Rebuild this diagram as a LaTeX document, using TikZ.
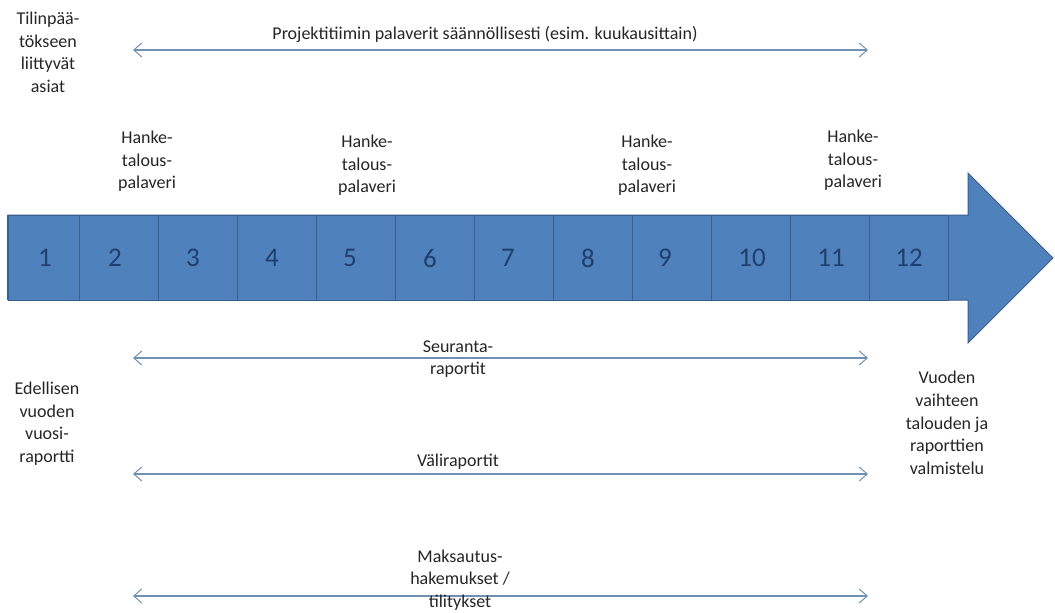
\documentclass[tikz,border=0pt]{standalone}
\usepackage{fontspec}
\setmainfont{Carlito}
\usetikzlibrary{arrows.meta}
\definecolor{bandfill}{HTML}{4F81BD}
\definecolor{bandedge}{HTML}{3A5F8F}
\definecolor{numblue}{HTML}{1F3F6E}
\definecolor{spanline}{HTML}{6F8FB3}
\definecolor{txt}{HTML}{262626}
\begin{document}
\begin{tikzpicture}[x=1pt,y=-1pt,
  lbl/.style={align=center,inner sep=0pt,text=txt,font=\fontsize{18}{22.6}\selectfont},
  num/.style={inner sep=0pt,text=numblue,font=\fontsize{27}{30}\selectfont},
  cell/.style={draw=bandedge,line width=0.8pt,fill=bandfill,minimum width=79pt,minimum height=85pt,inner sep=0pt,outer sep=0pt},
  span/.style={draw=spanline,line width=1.3pt,{Straight Barb[length=8pt,width=14pt,line width=1pt]}-{Straight Barb[length=8pt,width=14pt,line width=1pt]}}]
\useasboundingbox (0,0) rectangle (1055,613);
\fill[white] (0,0) rectangle (1055,613);

% the year as a block arrow
\filldraw[fill=bandfill,draw=bandedge,line width=1pt]
  (8,215) -- (968,215) -- (968,173) -- (1053,258) -- (968,343) -- (968,300) -- (8,300) -- cycle;

% month cells
\node[cell,minimum width=71pt] (c1) at (43.5,257.5) {};
\foreach \i in {2,...,12}{
  \node[cell] (c\i) at ({79*\i-39.5},257.5) {};
}
\draw[bandedge,line width=1.4pt] (8,215) -- (8,300);

% month numbers
\foreach \i/\x in {1/45,2/115,3/193,4/272,5/350,6/430,7/508,8/588,9/665,10/752,11/831,12/909}{
  \node[num] (n\i) at (\x,258) {\i};
}

% notes on the left and right
\node[lbl] (tilinpaatos) at (48,52.5) {Tilinpää-\\tökseen\\liittyvät\\asiat};
\node[lbl] (edellinen) at (47,423.5) {Edellisen\\vuoden\\vuosi-\\raportti};
\node[lbl] (vuodenvaihde) at (947,423) {Vuoden\\vaihteen\\talouden ja\\raporttien\\valmistelu};

% meetings above the band
\node[lbl] (hanke1) at (147,161.5) {Hanke-\\talous-\\palaveri};
\node[lbl] (hanke2) at (367,165.5) {Hanke-\\talous-\\palaveri};
\node[lbl] (hanke3) at (647,165.5) {Hanke-\\talous-\\palaveri};
\node[lbl] (hanke4) at (853,160.5) {Hanke-\\talous-\\palaveri};

% recurring activities over the year
\coordinate (pa) at (133,50);  \coordinate (pb) at (868,50);
\coordinate (sa) at (133,358); \coordinate (sb) at (868,358);
\coordinate (va) at (133,474); \coordinate (vb) at (868,474);
\coordinate (ma) at (133,596); \coordinate (mb) at (868,596);
\draw[span] (pa) -- (pb);
\draw[span] (sa) -- (sb);
\draw[span] (va) -- (vb);
\draw[span] (ma) -- (mb);

\node[lbl] (projekti) at (485,34) {Projektitiimin palaverit säännöllisesti (esim. kuukausittain)};
\node[lbl] (seuranta) at (458,359) {Seuranta-\\raportit};
\node[lbl] (vali) at (458,462) {Väliraportit};
\node[lbl] (maksatus) at (460,580) {Maksautus-\\hakemukset /\\tilitykset};
\end{tikzpicture}
\end{document}
